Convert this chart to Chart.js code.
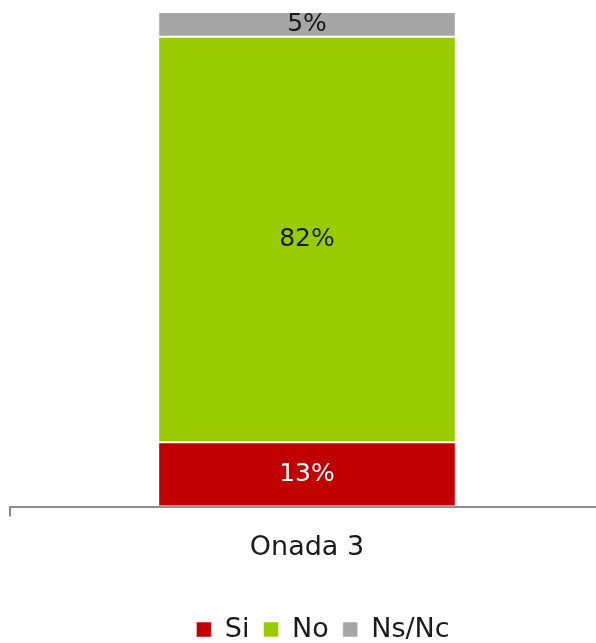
<!DOCTYPE html>
<html>
<head>
<meta charset="utf-8">
<script src="https://cdn.jsdelivr.net/npm/chart.js@4"></script>
<style>
  html, body { margin: 0; padding: 0; background: #fff; overflow: hidden; }
  #wrap { width: 604px; height: 653px; }
</style>
</head>
<body>
<div id="wrap"><canvas id="chart"></canvas></div>
<script>
const categories = ["Onada 3"];
const seriesNames = ["Si", "No", "Ns/Nc"];
const siValues = [13];
const noValues = [82];
const nsncValues = [5];

const COLORS = ["#c00000", "#99cc00", "#a6a6a6"];
const LABEL_COLORS = ["#ffffff", "#1a1a1a", "#1a1a1a"];
const FONT = "'DejaVu Sans', sans-serif";

// draws the percentage in the middle of each segment
const valueLabels = {
  id: "valueLabels",
  afterDatasetsDraw(chart) {
    const ctx = chart.ctx;
    ctx.save();
    ctx.font = "25px " + FONT;
    ctx.textAlign = "center";
    ctx.textBaseline = "middle";
    chart.data.datasets.forEach((ds, i) => {
      chart.getDatasetMeta(i).data.forEach((bar, j) => {
        const mid = (bar.y + bar.base) / 2;
        ctx.fillStyle = LABEL_COLORS[i];
        ctx.fillText(ds.data[j] + "%", bar.x, mid);
      });
    });
    ctx.restore();
  },
};

// legend sits a bit right of centre in the original
const legendShift = {
  id: "legendShift",
  afterLayout(chart) {
    chart.legend.left += 16;
    chart.legend.right += 16;
  },
};

new Chart(document.getElementById("chart"), {
  type: "bar",
  data: {
    labels: categories,
    datasets: [siValues, noValues, nsncValues].map((vals, i) => ({
      label: seriesNames[i],
      data: vals,
      backgroundColor: COLORS[i],
      borderColor: "#ffffff",
      borderWidth: { top: 1, bottom: 1, left: 0, right: 0 },
      borderSkipped: false,
      barPercentage: 1,
      categoryPercentage: 0.498,
    })),
  },
  options: {
    responsive: true,
    maintainAspectRatio: false,
    animation: false,
    layout: { padding: { left: 10, top: 12, right: 0, bottom: 0 } },
    scales: {
      x: {
        stacked: true,
        border: { display: true, color: "#8c8c8c", width: 2 },
        grid: { display: true, drawOnChartArea: false, drawTicks: true, tickLength: 10, color: "#8c8c8c", lineWidth: 2 },
        ticks: { color: "#1a1a1a", font: { size: 27, family: FONT }, padding: 15 },
        afterFit: (scale) => { scale.height += 23; },
      },
      y: {
        stacked: true,
        display: false,
        min: 0,
        max: 100,
      },
    },
    plugins: {
      legend: {
        position: "bottom",
        labels: { boxWidth: 15, boxHeight: 15, color: "#1a1a1a", font: { size: 27, family: FONT }, padding: 14 },
      },
      tooltip: { enabled: false },
    },
  },
  plugins: [valueLabels, legendShift],
});
</script>
</body>
</html>
